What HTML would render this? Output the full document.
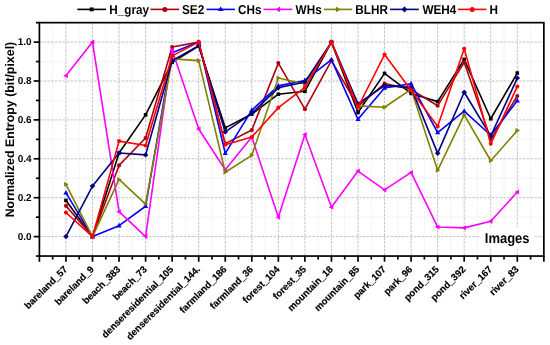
<!DOCTYPE html><html><head><meta charset="utf-8"><style>html,body{margin:0;padding:0;background:#fff;width:550px;height:345px;overflow:hidden}svg{display:block;will-change:transform;text-rendering:geometricPrecision;font-family:"Liberation Sans",sans-serif;font-weight:bold}</style></head><body>
<svg width="550" height="345" viewBox="0 0 550 345">
<rect width="550" height="345" fill="#fff"/>
<style>.mn{stroke:#eeeeee;stroke-width:1;stroke-dasharray:1.5 0.7}.mj{stroke:#c4c4c4;stroke-width:1;stroke-dasharray:2.7 1.2}</style>
<g><line x1="52.67" y1="22.65" x2="52.67" y2="256.05" class="mn"/><line x1="79.22" y1="22.65" x2="79.22" y2="256.05" class="mn"/><line x1="105.78" y1="22.65" x2="105.78" y2="256.05" class="mn"/><line x1="132.32" y1="22.65" x2="132.32" y2="256.05" class="mn"/><line x1="158.88" y1="22.65" x2="158.88" y2="256.05" class="mn"/><line x1="185.43" y1="22.65" x2="185.43" y2="256.05" class="mn"/><line x1="211.98" y1="22.65" x2="211.98" y2="256.05" class="mn"/><line x1="238.53" y1="22.65" x2="238.53" y2="256.05" class="mn"/><line x1="265.07" y1="22.65" x2="265.07" y2="256.05" class="mn"/><line x1="291.62" y1="22.65" x2="291.62" y2="256.05" class="mn"/><line x1="318.18" y1="22.65" x2="318.18" y2="256.05" class="mn"/><line x1="344.72" y1="22.65" x2="344.72" y2="256.05" class="mn"/><line x1="371.27" y1="22.65" x2="371.27" y2="256.05" class="mn"/><line x1="397.82" y1="22.65" x2="397.82" y2="256.05" class="mn"/><line x1="424.38" y1="22.65" x2="424.38" y2="256.05" class="mn"/><line x1="450.93" y1="22.65" x2="450.93" y2="256.05" class="mn"/><line x1="477.47" y1="22.65" x2="477.47" y2="256.05" class="mn"/><line x1="504.02" y1="22.65" x2="504.02" y2="256.05" class="mn"/><line x1="530.58" y1="22.65" x2="530.58" y2="256.05" class="mn"/><line x1="39.40" y1="217.15" x2="543.85" y2="217.15" class="mn"/><line x1="39.40" y1="178.25" x2="543.85" y2="178.25" class="mn"/><line x1="39.40" y1="139.35" x2="543.85" y2="139.35" class="mn"/><line x1="39.40" y1="100.45" x2="543.85" y2="100.45" class="mn"/><line x1="39.40" y1="61.55" x2="543.85" y2="61.55" class="mn"/><line x1="65.95" y1="22.65" x2="65.95" y2="256.05" class="mj"/><line x1="92.50" y1="22.65" x2="92.50" y2="256.05" class="mj"/><line x1="119.05" y1="22.65" x2="119.05" y2="256.05" class="mj"/><line x1="145.60" y1="22.65" x2="145.60" y2="256.05" class="mj"/><line x1="172.15" y1="22.65" x2="172.15" y2="256.05" class="mj"/><line x1="198.70" y1="22.65" x2="198.70" y2="256.05" class="mj"/><line x1="225.25" y1="22.65" x2="225.25" y2="256.05" class="mj"/><line x1="251.80" y1="22.65" x2="251.80" y2="256.05" class="mj"/><line x1="278.35" y1="22.65" x2="278.35" y2="256.05" class="mj"/><line x1="304.90" y1="22.65" x2="304.90" y2="256.05" class="mj"/><line x1="331.45" y1="22.65" x2="331.45" y2="256.05" class="mj"/><line x1="358.00" y1="22.65" x2="358.00" y2="256.05" class="mj"/><line x1="384.55" y1="22.65" x2="384.55" y2="256.05" class="mj"/><line x1="411.10" y1="22.65" x2="411.10" y2="256.05" class="mj"/><line x1="437.65" y1="22.65" x2="437.65" y2="256.05" class="mj"/><line x1="464.20" y1="22.65" x2="464.20" y2="256.05" class="mj"/><line x1="490.75" y1="22.65" x2="490.75" y2="256.05" class="mj"/><line x1="517.30" y1="22.65" x2="517.30" y2="256.05" class="mj"/><line x1="39.40" y1="236.60" x2="543.85" y2="236.60" class="mj"/><line x1="39.40" y1="197.70" x2="543.85" y2="197.70" class="mj"/><line x1="39.40" y1="158.80" x2="543.85" y2="158.80" class="mj"/><line x1="39.40" y1="119.90" x2="543.85" y2="119.90" class="mj"/><line x1="39.40" y1="81.00" x2="543.85" y2="81.00" class="mj"/><line x1="39.40" y1="42.10" x2="543.85" y2="42.10" class="mj"/></g>
<polyline points="65.95,200.42 92.50,236.60 119.05,152.96 145.60,114.84 172.15,62.33 198.70,45.99 225.25,127.87 251.80,114.06 278.35,94.23 304.90,91.31 331.45,42.10 358.00,112.51 384.55,73.41 411.10,93.45 437.65,101.62 464.20,59.41 490.75,118.73 517.30,73.03" fill="none" stroke="#000000" stroke-width="1.6" stroke-linejoin="round"/>
<rect x="64.15" y="198.62" width="3.60" height="3.60" fill="#000000"/><rect x="90.70" y="234.80" width="3.60" height="3.60" fill="#000000"/><rect x="117.25" y="151.16" width="3.60" height="3.60" fill="#000000"/><rect x="143.80" y="113.04" width="3.60" height="3.60" fill="#000000"/><rect x="170.35" y="60.53" width="3.60" height="3.60" fill="#000000"/><rect x="196.90" y="44.19" width="3.60" height="3.60" fill="#000000"/><rect x="223.45" y="126.07" width="3.60" height="3.60" fill="#000000"/><rect x="250.00" y="112.27" width="3.60" height="3.60" fill="#000000"/><rect x="276.55" y="92.43" width="3.60" height="3.60" fill="#000000"/><rect x="303.10" y="89.51" width="3.60" height="3.60" fill="#000000"/><rect x="329.65" y="40.30" width="3.60" height="3.60" fill="#000000"/><rect x="356.20" y="110.71" width="3.60" height="3.60" fill="#000000"/><rect x="382.75" y="71.61" width="3.60" height="3.60" fill="#000000"/><rect x="409.30" y="91.65" width="3.60" height="3.60" fill="#000000"/><rect x="435.85" y="99.82" width="3.60" height="3.60" fill="#000000"/><rect x="462.40" y="57.61" width="3.60" height="3.60" fill="#000000"/><rect x="488.95" y="116.93" width="3.60" height="3.60" fill="#000000"/><rect x="515.50" y="71.23" width="3.60" height="3.60" fill="#000000"/>
<polyline points="65.95,205.87 92.50,236.60 119.05,165.41 145.60,137.99 172.15,46.96 198.70,42.10 225.25,143.63 251.80,130.01 278.35,63.11 304.90,109.20 331.45,60.58 358.00,106.28 384.55,83.53 411.10,89.36 437.65,105.70 464.20,62.33 490.75,139.35 517.30,95.98" fill="none" stroke="#ab0010" stroke-width="1.6" stroke-linejoin="round"/>
<circle cx="65.95" cy="205.87" r="2.05" fill="#ab0010"/><circle cx="92.50" cy="236.60" r="2.05" fill="#ab0010"/><circle cx="119.05" cy="165.41" r="2.05" fill="#ab0010"/><circle cx="145.60" cy="137.99" r="2.05" fill="#ab0010"/><circle cx="172.15" cy="46.96" r="2.05" fill="#ab0010"/><circle cx="198.70" cy="42.10" r="2.05" fill="#ab0010"/><circle cx="225.25" cy="143.63" r="2.05" fill="#ab0010"/><circle cx="251.80" cy="130.01" r="2.05" fill="#ab0010"/><circle cx="278.35" cy="63.11" r="2.05" fill="#ab0010"/><circle cx="304.90" cy="109.20" r="2.05" fill="#ab0010"/><circle cx="331.45" cy="60.58" r="2.05" fill="#ab0010"/><circle cx="358.00" cy="106.28" r="2.05" fill="#ab0010"/><circle cx="384.55" cy="83.53" r="2.05" fill="#ab0010"/><circle cx="411.10" cy="89.36" r="2.05" fill="#ab0010"/><circle cx="437.65" cy="105.70" r="2.05" fill="#ab0010"/><circle cx="464.20" cy="62.33" r="2.05" fill="#ab0010"/><circle cx="490.75" cy="139.35" r="2.05" fill="#ab0010"/><circle cx="517.30" cy="95.98" r="2.05" fill="#ab0010"/>
<polyline points="65.95,192.84 92.50,236.60 119.05,225.71 145.60,206.26 172.15,52.80 198.70,42.10 225.25,153.35 251.80,110.17 278.35,85.86 304.90,80.42 331.45,59.60 358.00,119.32 384.55,88.00 411.10,83.72 437.65,132.54 464.20,111.15 490.75,135.27 517.30,100.64" fill="none" stroke="#0000ff" stroke-width="1.6" stroke-linejoin="round"/>
<polygon points="65.95,189.99 68.55,194.59 63.35,194.59" fill="#0000ff"/><polygon points="92.50,233.75 95.10,238.35 89.90,238.35" fill="#0000ff"/><polygon points="119.05,222.86 121.65,227.46 116.45,227.46" fill="#0000ff"/><polygon points="145.60,203.41 148.20,208.01 143.00,208.01" fill="#0000ff"/><polygon points="172.15,49.95 174.75,54.55 169.55,54.55" fill="#0000ff"/><polygon points="198.70,39.25 201.30,43.85 196.10,43.85" fill="#0000ff"/><polygon points="225.25,150.50 227.85,155.10 222.65,155.10" fill="#0000ff"/><polygon points="251.80,107.32 254.40,111.92 249.20,111.92" fill="#0000ff"/><polygon points="278.35,83.01 280.95,87.61 275.75,87.61" fill="#0000ff"/><polygon points="304.90,77.56 307.50,82.16 302.30,82.16" fill="#0000ff"/><polygon points="331.45,56.75 334.05,61.35 328.85,61.35" fill="#0000ff"/><polygon points="358.00,116.46 360.60,121.06 355.40,121.06" fill="#0000ff"/><polygon points="384.55,85.15 387.15,89.75 381.95,89.75" fill="#0000ff"/><polygon points="411.10,80.87 413.70,85.47 408.50,85.47" fill="#0000ff"/><polygon points="437.65,129.69 440.25,134.29 435.05,134.29" fill="#0000ff"/><polygon points="464.20,108.30 466.80,112.90 461.60,112.90" fill="#0000ff"/><polygon points="490.75,132.41 493.35,137.01 488.15,137.01" fill="#0000ff"/><polygon points="517.30,97.79 519.90,102.39 514.70,102.39" fill="#0000ff"/>
<polyline points="65.95,75.75 92.50,42.10 119.05,211.70 145.60,236.60 172.15,49.88 198.70,129.04 225.25,169.69 251.80,137.02 278.35,217.34 304.90,134.49 331.45,207.23 358.00,171.05 384.55,189.92 411.10,172.41 437.65,227.07 464.20,227.85 490.75,221.23 517.30,192.06" fill="none" stroke="#ff00ff" stroke-width="1.6" stroke-linejoin="round"/>
<polygon points="63.19,75.75 67.79,73.25 67.79,78.25" fill="#ff00ff"/><polygon points="89.74,42.10 94.34,39.60 94.34,44.60" fill="#ff00ff"/><polygon points="116.29,211.70 120.89,209.20 120.89,214.20" fill="#ff00ff"/><polygon points="142.84,236.60 147.44,234.10 147.44,239.10" fill="#ff00ff"/><polygon points="169.39,49.88 173.99,47.38 173.99,52.38" fill="#ff00ff"/><polygon points="195.94,129.04 200.54,126.54 200.54,131.54" fill="#ff00ff"/><polygon points="222.49,169.69 227.09,167.19 227.09,172.19" fill="#ff00ff"/><polygon points="249.04,137.02 253.64,134.52 253.64,139.52" fill="#ff00ff"/><polygon points="275.59,217.34 280.19,214.84 280.19,219.84" fill="#ff00ff"/><polygon points="302.14,134.49 306.74,131.99 306.74,136.99" fill="#ff00ff"/><polygon points="328.69,207.23 333.29,204.73 333.29,209.73" fill="#ff00ff"/><polygon points="355.24,171.05 359.84,168.55 359.84,173.55" fill="#ff00ff"/><polygon points="381.79,189.92 386.39,187.42 386.39,192.42" fill="#ff00ff"/><polygon points="408.34,172.41 412.94,169.91 412.94,174.91" fill="#ff00ff"/><polygon points="434.89,227.07 439.49,224.57 439.49,229.57" fill="#ff00ff"/><polygon points="461.44,227.85 466.04,225.35 466.04,230.35" fill="#ff00ff"/><polygon points="487.99,221.23 492.59,218.73 492.59,223.73" fill="#ff00ff"/><polygon points="514.54,192.06 519.14,189.56 519.14,194.56" fill="#ff00ff"/>
<polyline points="65.95,184.28 92.50,236.60 119.05,179.42 145.60,204.12 172.15,58.83 198.70,60.58 225.25,172.22 251.80,155.30 278.35,78.08 304.90,83.92 331.45,42.10 358.00,105.90 384.55,107.26 411.10,89.36 437.65,170.28 464.20,114.84 490.75,160.75 517.30,130.60" fill="none" stroke="#808000" stroke-width="1.6" stroke-linejoin="round"/>
<polygon points="68.71,184.28 64.11,181.78 64.11,186.78" fill="#808000"/><polygon points="95.26,236.60 90.66,234.10 90.66,239.10" fill="#808000"/><polygon points="121.81,179.42 117.21,176.92 117.21,181.92" fill="#808000"/><polygon points="148.36,204.12 143.76,201.62 143.76,206.62" fill="#808000"/><polygon points="174.91,58.83 170.31,56.33 170.31,61.33" fill="#808000"/><polygon points="201.46,60.58 196.86,58.08 196.86,63.08" fill="#808000"/><polygon points="228.01,172.22 223.41,169.72 223.41,174.72" fill="#808000"/><polygon points="254.56,155.30 249.96,152.80 249.96,157.80" fill="#808000"/><polygon points="281.11,78.08 276.51,75.58 276.51,80.58" fill="#808000"/><polygon points="307.66,83.92 303.06,81.42 303.06,86.42" fill="#808000"/><polygon points="334.21,42.10 329.61,39.60 329.61,44.60" fill="#808000"/><polygon points="360.76,105.90 356.16,103.40 356.16,108.40" fill="#808000"/><polygon points="387.31,107.26 382.71,104.76 382.71,109.76" fill="#808000"/><polygon points="413.86,89.36 409.26,86.86 409.26,91.86" fill="#808000"/><polygon points="440.41,170.28 435.81,167.78 435.81,172.78" fill="#808000"/><polygon points="466.96,114.84 462.36,112.34 462.36,117.34" fill="#808000"/><polygon points="493.51,160.75 488.91,158.25 488.91,163.25" fill="#808000"/><polygon points="520.06,130.60 515.46,128.10 515.46,133.10" fill="#808000"/>
<polyline points="65.95,236.60 92.50,186.03 119.05,152.96 145.60,154.91 172.15,60.58 198.70,45.60 225.25,131.96 251.80,113.29 278.35,87.81 304.90,81.97 331.45,42.10 358.00,103.76 384.55,85.67 411.10,87.42 437.65,153.35 464.20,92.28 490.75,136.04 517.30,78.08" fill="none" stroke="#000080" stroke-width="1.6" stroke-linejoin="round"/>
<polygon points="65.95,234.00 68.75,236.60 65.95,239.20 63.15,236.60" fill="#000080"/><polygon points="92.50,183.43 95.30,186.03 92.50,188.63 89.70,186.03" fill="#000080"/><polygon points="119.05,150.36 121.85,152.96 119.05,155.56 116.25,152.96" fill="#000080"/><polygon points="145.60,152.31 148.40,154.91 145.60,157.51 142.80,154.91" fill="#000080"/><polygon points="172.15,57.98 174.95,60.58 172.15,63.18 169.35,60.58" fill="#000080"/><polygon points="198.70,43.00 201.50,45.60 198.70,48.20 195.90,45.60" fill="#000080"/><polygon points="225.25,129.36 228.05,131.96 225.25,134.56 222.45,131.96" fill="#000080"/><polygon points="251.80,110.69 254.60,113.29 251.80,115.89 249.00,113.29" fill="#000080"/><polygon points="278.35,85.21 281.15,87.81 278.35,90.41 275.55,87.81" fill="#000080"/><polygon points="304.90,79.37 307.70,81.97 304.90,84.57 302.10,81.97" fill="#000080"/><polygon points="331.45,39.50 334.25,42.10 331.45,44.70 328.65,42.10" fill="#000080"/><polygon points="358.00,101.16 360.80,103.76 358.00,106.36 355.20,103.76" fill="#000080"/><polygon points="384.55,83.07 387.35,85.67 384.55,88.27 381.75,85.67" fill="#000080"/><polygon points="411.10,84.82 413.90,87.42 411.10,90.02 408.30,87.42" fill="#000080"/><polygon points="437.65,150.75 440.45,153.35 437.65,155.95 434.85,153.35" fill="#000080"/><polygon points="464.20,89.68 467.00,92.28 464.20,94.88 461.40,92.28" fill="#000080"/><polygon points="490.75,133.44 493.55,136.04 490.75,138.64 487.95,136.04" fill="#000080"/><polygon points="517.30,75.48 520.10,78.08 517.30,80.68 514.50,78.08" fill="#000080"/>
<polyline points="65.95,212.48 92.50,236.60 119.05,141.10 145.60,145.57 172.15,55.91 198.70,42.10 225.25,144.80 251.80,137.02 278.35,107.65 304.90,87.42 331.45,42.10 358.00,107.26 384.55,54.55 411.10,90.34 437.65,126.51 464.20,48.71 490.75,143.82 517.30,86.45" fill="none" stroke="#ff0000" stroke-width="1.6" stroke-linejoin="round"/>
<circle cx="65.95" cy="212.48" r="2.05" fill="#ff0000"/><circle cx="92.50" cy="236.60" r="2.05" fill="#ff0000"/><circle cx="119.05" cy="141.10" r="2.05" fill="#ff0000"/><circle cx="145.60" cy="145.57" r="2.05" fill="#ff0000"/><circle cx="172.15" cy="55.91" r="2.05" fill="#ff0000"/><circle cx="198.70" cy="42.10" r="2.05" fill="#ff0000"/><circle cx="225.25" cy="144.80" r="2.05" fill="#ff0000"/><circle cx="251.80" cy="137.02" r="2.05" fill="#ff0000"/><circle cx="278.35" cy="107.65" r="2.05" fill="#ff0000"/><circle cx="304.90" cy="87.42" r="2.05" fill="#ff0000"/><circle cx="331.45" cy="42.10" r="2.05" fill="#ff0000"/><circle cx="358.00" cy="107.26" r="2.05" fill="#ff0000"/><circle cx="384.55" cy="54.55" r="2.05" fill="#ff0000"/><circle cx="411.10" cy="90.34" r="2.05" fill="#ff0000"/><circle cx="437.65" cy="126.51" r="2.05" fill="#ff0000"/><circle cx="464.20" cy="48.71" r="2.05" fill="#ff0000"/><circle cx="490.75" cy="143.82" r="2.05" fill="#ff0000"/><circle cx="517.30" cy="86.45" r="2.05" fill="#ff0000"/>
<rect x="39.40" y="22.65" width="504.45" height="233.40" fill="none" stroke="#000" stroke-width="1.7"/>
<g stroke="#000" stroke-width="1.7"><line x1="35.90" y1="256.05" x2="39.40" y2="256.05"/><line x1="33.70" y1="236.60" x2="39.40" y2="236.60"/><line x1="35.90" y1="217.15" x2="39.40" y2="217.15"/><line x1="33.70" y1="197.70" x2="39.40" y2="197.70"/><line x1="35.90" y1="178.25" x2="39.40" y2="178.25"/><line x1="33.70" y1="158.80" x2="39.40" y2="158.80"/><line x1="35.90" y1="139.35" x2="39.40" y2="139.35"/><line x1="33.70" y1="119.90" x2="39.40" y2="119.90"/><line x1="35.90" y1="100.45" x2="39.40" y2="100.45"/><line x1="33.70" y1="81.00" x2="39.40" y2="81.00"/><line x1="35.90" y1="61.55" x2="39.40" y2="61.55"/><line x1="33.70" y1="42.10" x2="39.40" y2="42.10"/><line x1="35.90" y1="22.65" x2="39.40" y2="22.65"/><line x1="39.40" y1="256.05" x2="39.40" y2="261.75"/><line x1="52.67" y1="256.05" x2="52.67" y2="259.55"/><line x1="65.95" y1="256.05" x2="65.95" y2="261.75"/><line x1="79.22" y1="256.05" x2="79.22" y2="259.55"/><line x1="92.50" y1="256.05" x2="92.50" y2="261.75"/><line x1="105.78" y1="256.05" x2="105.78" y2="259.55"/><line x1="119.05" y1="256.05" x2="119.05" y2="261.75"/><line x1="132.32" y1="256.05" x2="132.32" y2="259.55"/><line x1="145.60" y1="256.05" x2="145.60" y2="261.75"/><line x1="158.88" y1="256.05" x2="158.88" y2="259.55"/><line x1="172.15" y1="256.05" x2="172.15" y2="261.75"/><line x1="185.43" y1="256.05" x2="185.43" y2="259.55"/><line x1="198.70" y1="256.05" x2="198.70" y2="261.75"/><line x1="211.98" y1="256.05" x2="211.98" y2="259.55"/><line x1="225.25" y1="256.05" x2="225.25" y2="261.75"/><line x1="238.53" y1="256.05" x2="238.53" y2="259.55"/><line x1="251.80" y1="256.05" x2="251.80" y2="261.75"/><line x1="265.07" y1="256.05" x2="265.07" y2="259.55"/><line x1="278.35" y1="256.05" x2="278.35" y2="261.75"/><line x1="291.62" y1="256.05" x2="291.62" y2="259.55"/><line x1="304.90" y1="256.05" x2="304.90" y2="261.75"/><line x1="318.18" y1="256.05" x2="318.18" y2="259.55"/><line x1="331.45" y1="256.05" x2="331.45" y2="261.75"/><line x1="344.72" y1="256.05" x2="344.72" y2="259.55"/><line x1="358.00" y1="256.05" x2="358.00" y2="261.75"/><line x1="371.27" y1="256.05" x2="371.27" y2="259.55"/><line x1="384.55" y1="256.05" x2="384.55" y2="261.75"/><line x1="397.82" y1="256.05" x2="397.82" y2="259.55"/><line x1="411.10" y1="256.05" x2="411.10" y2="261.75"/><line x1="424.38" y1="256.05" x2="424.38" y2="259.55"/><line x1="437.65" y1="256.05" x2="437.65" y2="261.75"/><line x1="450.93" y1="256.05" x2="450.93" y2="259.55"/><line x1="464.20" y1="256.05" x2="464.20" y2="261.75"/><line x1="477.47" y1="256.05" x2="477.47" y2="259.55"/><line x1="490.75" y1="256.05" x2="490.75" y2="261.75"/><line x1="504.02" y1="256.05" x2="504.02" y2="259.55"/><line x1="517.30" y1="256.05" x2="517.30" y2="261.75"/><line x1="530.58" y1="256.05" x2="530.58" y2="259.55"/><line x1="543.85" y1="256.05" x2="543.85" y2="261.75"/></g>
<g font-size="10"><text x="31.6" y="239.70" text-anchor="end">0.0</text><text x="31.6" y="200.80" text-anchor="end">0.2</text><text x="31.6" y="161.90" text-anchor="end">0.4</text><text x="31.6" y="123.00" text-anchor="end">0.6</text><text x="31.6" y="84.10" text-anchor="end">0.8</text><text x="31.6" y="45.20" text-anchor="end">1.0</text></g>
<text transform="translate(13.7,217.33) rotate(-90)" font-size="12.4">Normalized Entropy (bit/pixel)</text>
<g font-size="9.6" stroke="#000" stroke-width="0.18"><text transform="translate(67.95,269.90) rotate(-45)" text-anchor="end">bareland_57</text><text transform="translate(94.50,269.90) rotate(-45)" text-anchor="end">bareland_9</text><text transform="translate(121.05,269.90) rotate(-45)" text-anchor="end">beach_383</text><text transform="translate(147.60,269.90) rotate(-45)" text-anchor="end">beach_73</text><text transform="translate(174.15,269.90) rotate(-45)" text-anchor="end">denseresidential_105</text><text transform="translate(200.70,269.90) rotate(-45)" text-anchor="end">denseresidential_144.</text><text transform="translate(227.25,269.90) rotate(-45)" text-anchor="end">farmland_186</text><text transform="translate(253.80,269.90) rotate(-45)" text-anchor="end">farmland_36</text><text transform="translate(280.35,269.90) rotate(-45)" text-anchor="end">forest_104</text><text transform="translate(306.90,269.90) rotate(-45)" text-anchor="end">forest_35</text><text transform="translate(333.45,269.90) rotate(-45)" text-anchor="end">mountain_18</text><text transform="translate(360.00,269.90) rotate(-45)" text-anchor="end">mountain_85</text><text transform="translate(386.55,269.90) rotate(-45)" text-anchor="end">park_107</text><text transform="translate(413.10,269.90) rotate(-45)" text-anchor="end">park_96</text><text transform="translate(439.65,269.90) rotate(-45)" text-anchor="end">pond_315</text><text transform="translate(466.20,269.90) rotate(-45)" text-anchor="end">pond_392</text><text transform="translate(492.75,269.90) rotate(-45)" text-anchor="end">river_167</text><text transform="translate(519.30,269.90) rotate(-45)" text-anchor="end">river_83</text></g>
<rect x="480" y="227.5" width="54" height="22" fill="#fff"/>
<text transform="translate(484.8,243) scale(0.915,1)" font-size="14.2">Images</text>
<line x1="77.3" y1="9.4" x2="106.0" y2="9.4" stroke="#000000" stroke-width="1.6"/>
<rect x="89.70" y="7.45" width="3.90" height="3.90" fill="#000000"/>
<text transform="translate(109.3,13.7) scale(0.91,1)" font-size="12.9">H_gray</text>
<line x1="150.5" y1="9.4" x2="179.2" y2="9.4" stroke="#ab0010" stroke-width="1.6"/>
<circle cx="164.85" cy="9.40" r="2.5" fill="#ab0010"/>
<text transform="translate(182.05,13.7) scale(0.91,1)" font-size="12.9">SE2</text>
<line x1="206.5" y1="9.4" x2="234.9" y2="9.4" stroke="#0000ff" stroke-width="1.6"/>
<polygon points="220.70,6.50 223.60,10.90 217.80,10.90" fill="#0000ff"/>
<text transform="translate(238.0,13.7) scale(0.91,1)" font-size="12.9">CHs</text>
<line x1="263.6" y1="9.4" x2="292.4" y2="9.4" stroke="#ff00ff" stroke-width="1.6"/>
<polygon points="275.42,9.40 280.12,6.50 280.12,12.30" fill="#ff00ff"/>
<text transform="translate(295.6,13.7) scale(0.91,1)" font-size="12.9">WHs</text>
<line x1="323.8" y1="9.4" x2="352.2" y2="9.4" stroke="#808000" stroke-width="1.6"/>
<polygon points="340.58,9.40 335.88,6.50 335.88,12.30" fill="#808000"/>
<text transform="translate(355.3,13.7) scale(0.91,1)" font-size="12.9">BLHR</text>
<line x1="390.1" y1="9.4" x2="418.8" y2="9.4" stroke="#000080" stroke-width="1.6"/>
<polygon points="404.45,6.30 407.25,9.40 404.45,12.50 401.65,9.40" fill="#000080"/>
<text transform="translate(422.4,13.7) scale(0.91,1)" font-size="12.9">WEH4</text>
<line x1="457.9" y1="9.4" x2="486.5" y2="9.4" stroke="#ff0000" stroke-width="1.6"/>
<circle cx="472.20" cy="9.40" r="2.5" fill="#ff0000"/>
<text transform="translate(489.5,13.7) scale(0.91,1)" font-size="12.9">H</text>
</svg></body></html>
